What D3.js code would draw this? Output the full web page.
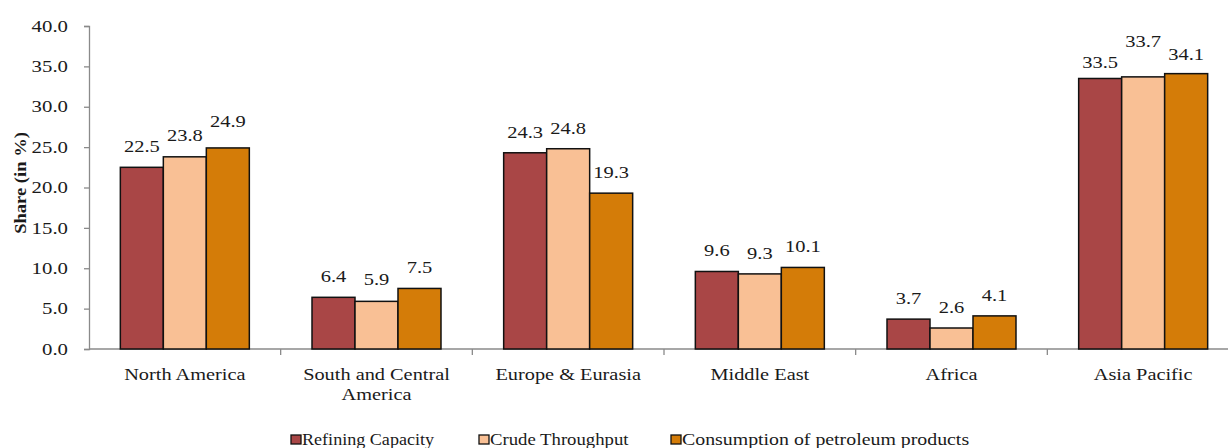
<!DOCTYPE html>
<html>
<head>
<meta charset="utf-8">
<script src="https://cdn.jsdelivr.net/npm/d3@7"></script>
<style>
  html, body { margin: 0; padding: 0; background: #fff; }
  svg { display: block; }
  svg text { font-family: "Liberation Serif", Tinos, "Times New Roman", serif; fill: #1a1a1a; }
</style>
</head>
<body>
<svg id="chart" width="1228" height="448"></svg>
<script>
// Regional shares (%) of refining capacity, throughput and product consumption
const regions = ["North America", "South and Central America", "Europe & Eurasia", "Middle East", "Africa", "Asia Pacific"];
const regionLines = [["North America"], ["South and Central", "America"], ["Europe & Eurasia"], ["Middle East"], ["Africa"], ["Asia Pacific"]];
const seriesNames = ["Refining Capacity", "Crude Throughput", "Consumption of petroleum products"];
const refiningCapacity = [22.5, 6.4, 24.3, 9.6, 3.7, 33.5];
const crudeThroughput = [23.8, 5.9, 24.8, 9.3, 2.6, 33.7];
const consumption = [24.9, 7.5, 19.3, 10.1, 4.1, 34.1];
const yTicks = [0, 5, 10, 15, 20, 25, 30, 35, 40];
const colors = ["#a94646", "#f9c095", "#d47c08"];

// Extra lift (px) for value labels that would otherwise collide, per series and region
const labelLift = [
  [0.5, 0, 0, 0, 0, -5],
  [1, 1.5, 0, 0, 0, 15],
  [6, 0, 0, 0, 0, -1]
];
// Horizontal widening of each legend entry's text
const legendWiden = [1.13, 1.17, 1.24];

const seriesValues = [refiningCapacity, crudeThroughput, consumption];
const svg = d3.select("#chart");

// Widen text glyphs horizontally by a factor, keeping its anchor point in place
function widen(sel, factor) {
  sel.each(function(d, i) {
    const node = this;
    const t = d3.select(node);
    const f = typeof factor === "function" ? factor(d, i) : factor;
    const anchor = getComputedStyle(node).textAnchor || t.attr("text-anchor") || "start";
    const w = node.getComputedTextLength();
    const target = w * f;
    const xv = +(t.attr("x") || 0);
    const shift = anchor === "middle" ? target / 2 : anchor === "end" ? target : 0;
    t.attr("text-anchor", "start").style("text-anchor", "start")
      .attr("x", xv - shift)
      .attr("textLength", target)
      .attr("lengthAdjust", "spacingAndGlyphs");
  });
}

const x0 = d3.scaleBand().domain(regions).range([89, 1239]).paddingInner(0.327).paddingOuter(0.1635);
const x1 = d3.scaleBand().domain(seriesNames).range([0, x0.bandwidth()]);
const y = d3.scaleLinear().domain([0, 40]).range([349, 26]);

// Y axis
const yAxis = svg.append("g").attr("transform", "translate(89,0)")
  .call(d3.axisLeft(y).tickValues(yTicks).tickFormat(d3.format(".1f")).tickSize(5).tickPadding(16));
yAxis.attr("font-family", null);
yAxis.select(".domain").attr("stroke", "#8a8a8a").attr("stroke-width", 1.3);
yAxis.selectAll(".tick line").attr("stroke", "#8a8a8a").attr("stroke-width", 1.3);
yAxis.selectAll(".tick text").attr("font-size", 16).attr("fill", "#1a1a1a");
widen(yAxis.selectAll(".tick text"), 1.3);

// X axis baseline with category divider ticks
svg.append("line").attr("x1", 89).attr("x2", 1228).attr("y1", y(0)).attr("y2", y(0))
  .attr("stroke", "#8a8a8a").attr("stroke-width", 1.3);
const step = x0.step();
const dividers = regions.slice(1).map(r => x0(r) - x0.paddingInner() * step / 2);
svg.selectAll("line.div").data(dividers).enter().append("line").attr("class", "div")
  .attr("x1", d => d).attr("x2", d => d).attr("y1", y(0)).attr("y2", y(0) + 6)
  .attr("stroke", "#8a8a8a").attr("stroke-width", 1.3);

// Bars and value labels
const groups = svg.selectAll("g.region").data(regions).enter().append("g")
  .attr("class", "region").attr("transform", d => `translate(${x0(d)},0)`);
seriesNames.forEach((s, si) => {
  groups.append("rect")
    .attr("x", x1(s))
    .attr("y", (d, i) => y(seriesValues[si][i]))
    .attr("width", x1.bandwidth())
    .attr("height", (d, i) => y(0) - y(seriesValues[si][i]))
    .attr("fill", colors[si])
    .attr("stroke", "#111")
    .attr("stroke-width", 1.5);
  const labels = groups.append("text")
    .attr("class", "value")
    .attr("x", x1(s) + x1.bandwidth() / 2)
    .attr("y", (d, i) => y(seriesValues[si][i]) - 15 - labelLift[si][i])
    .attr("text-anchor", "middle")
    .attr("font-size", 16)
    .text((d, i) => seriesValues[si][i].toFixed(1));
  widen(labels, 1.28);
});

// Category labels, one text per line
groups.each(function(d, i) {
  const g = d3.select(this);
  regionLines[i].forEach((line, li) => {
    const t = g.append("text")
      .attr("x", x0.bandwidth() / 2)
      .attr("y", 380 + li * 20)
      .attr("text-anchor", "middle")
      .attr("font-size", 16)
      .text(line);
    widen(t, 1.27);
  });
});

// Y axis title
const title = svg.append("text")
  .attr("transform", "translate(26,183) rotate(-90)")
  .attr("x", 0)
  .attr("text-anchor", "middle")
  .attr("font-size", 16)
  .attr("font-weight", "bold")
  .text("Share (in %)");
widen(title, 1.16);

// Legend
const legendX = [291, 479, 671];
const legend = svg.selectAll("g.legend").data(seriesNames).enter().append("g")
  .attr("class", "legend").attr("transform", (d, i) => `translate(${legendX[i]},435)`);
legend.append("rect").attr("width", 10).attr("height", 9)
  .attr("fill", (d, i) => colors[i]).attr("stroke", "#111").attr("stroke-width", 1.3);
const legendText = legend.append("text").attr("x", 11).attr("y", 9.5).attr("font-size", 16)
  .text(d => d);
widen(legendText, (d, i) => legendWiden[i]);
</script>
</body>
</html>
